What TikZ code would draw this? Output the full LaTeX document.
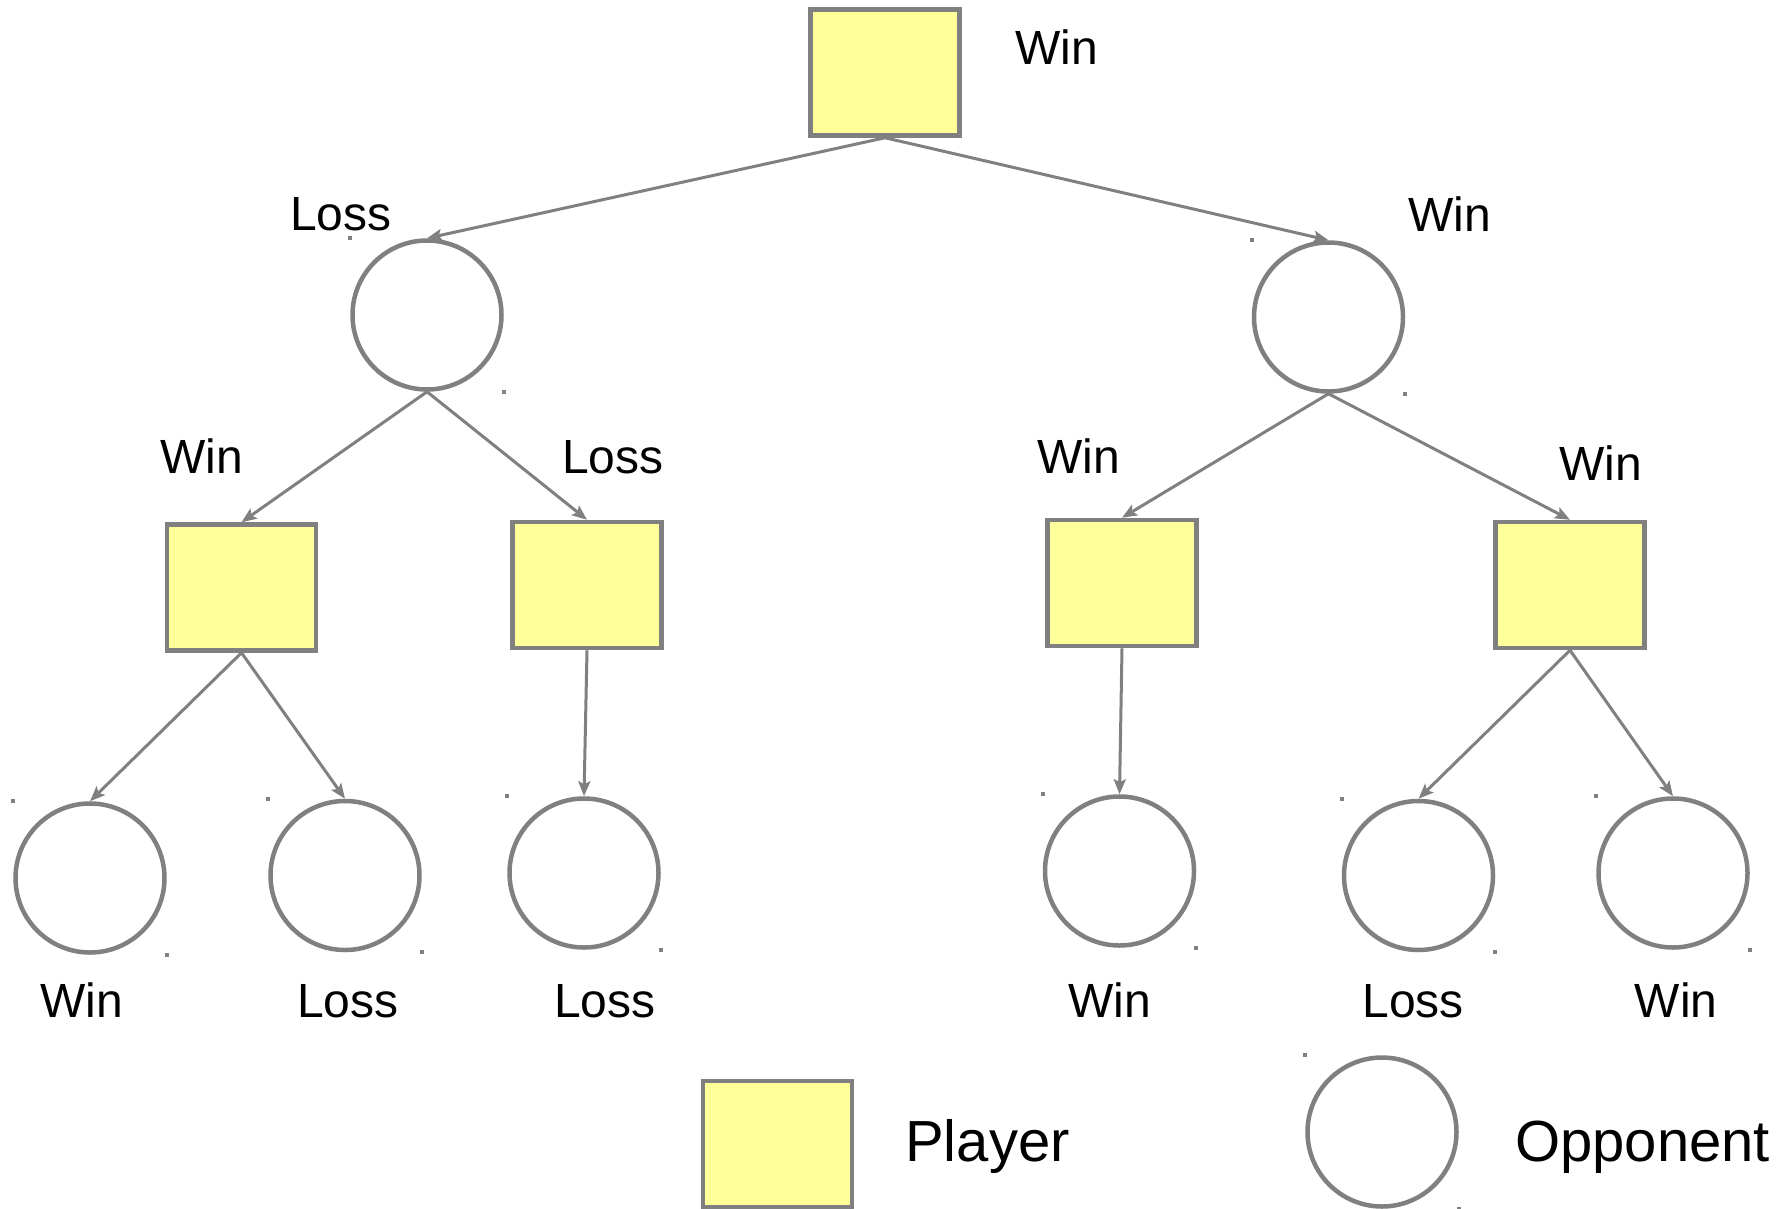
\documentclass[tikz,border=0pt]{standalone}
\usepackage{fontspec}
\setmainfont{Liberation Sans}
\usetikzlibrary{arrows.meta,calc}
\definecolor{edgegray}{HTML}{808080}
\definecolor{playerfill}{HTML}{FFFF99}

\begin{document}
\begin{tikzpicture}[x=1pt,y=-1pt,
  player/.style={draw=edgegray, line width=4.5pt, fill=playerfill, rectangle,
    minimum width=149pt, minimum height=126pt, inner sep=0pt},
  opponent/.style={draw=edgegray, line width=4.5pt, fill=white, circle,
    minimum size=149pt, inner sep=0pt},
  move/.style={draw=edgegray, line width=3pt,
    -{Stealth[length=15pt,width=12pt,inset=3pt]}},
  lbl/.style={anchor=base, inner sep=0pt, font=\fontsize{48}{54}\selectfont},
  keylbl/.style={anchor=base west, inner sep=0pt, font=\fontsize{58}{66}\selectfont},
  cornerdot/.style={fill=edgegray},
]
\useasboundingbox (0,0) rectangle (1783,1208);

% game tree: squares are the player's turns, circles the opponent's
\node[player]   (root) at (885,72.5) {};
\node[opponent] (l)    at (427,315)  {};
\node[opponent] (r)    at (1328.5,317) {};
\node[player]   (ll)   at (241.5,587.5) {};
\node[player]   (lr)   at (587,585) {};
\node[player]   (rl)   at (1122,583) {};
\node[player]   (rr)   at (1570,585) {};
\node[opponent] (lll)  at (90,878) {};
\node[opponent] (llr)  at (345,875.5) {};
\node[opponent] (lrl)  at (584,873) {};
\node[opponent] (rll)  at (1119.5,871) {};
\node[opponent] (rrl)  at (1418.5,875.5) {};
\node[opponent] (rrr)  at (1673,873) {};

% legend
\node[player]   (keyp) at (777.5,1144) {};
\node[opponent] (keyo) at (1382,1132) {};

% small marks at the corners of each circle's frame
\foreach \n in {l,r,lll,llr,lrl,rll,rrl,rrr,keyo}{
  \fill[cornerdot] ($(\n.west |- \n.north)+(-2,-2)$) rectangle +(4,4);
  \fill[cornerdot] ($(\n.east |- \n.south)+(-2,-2)$) rectangle +(4,4);
}

% moves
\draw[move] (root.south) -- (l.north);
\draw[move] (root.south) -- (r.north);
\draw[move] (l.south) -- (ll.north);
\draw[move] (l.south) -- (lr.north);
\draw[move] (r.south) -- (rl.north);
\draw[move] (r.south) -- (rr.north);
\draw[move] (ll.south) -- (lll.north);
\draw[move] (ll.south) -- (llr.north);
\draw[move] (lr.south) -- (lrl.north);
\draw[move] (rl.south) -- (rll.north);
\draw[move] (rr.south) -- (rrl.north);
\draw[move] (rr.south) -- (rrr.north);

% outcomes
\node[lbl] (t-root) at (1057,64)  {Win};
\node[lbl] (t-l)    at (341,230)  {Loss};
\node[lbl] (t-r)    at (1450,231) {Win};
\node[lbl] (t-ll)   at (202,473)  {Win};
\node[lbl] (t-lr)   at (613,473)  {Loss};
\node[lbl] (t-rl)   at (1079,473) {Win};
\node[lbl] (t-rr)   at (1601,480) {Win};
\node[lbl] (t-lll)  at (82,1017)  {Win};
\node[lbl] (t-llr)  at (348,1017) {Loss};
\node[lbl] (t-lrl)  at (605,1017) {Loss};
\node[lbl] (t-rll)  at (1110,1017) {Win};
\node[lbl] (t-rrl)  at (1413,1017) {Loss};
\node[lbl] (t-rrr)  at (1676,1017) {Win};

\node[keylbl] (t-keyp) at (905,1161)  {Player};
\node[keylbl] (t-keyo) at (1515,1161) {Opponent};
\end{tikzpicture}
\end{document}
